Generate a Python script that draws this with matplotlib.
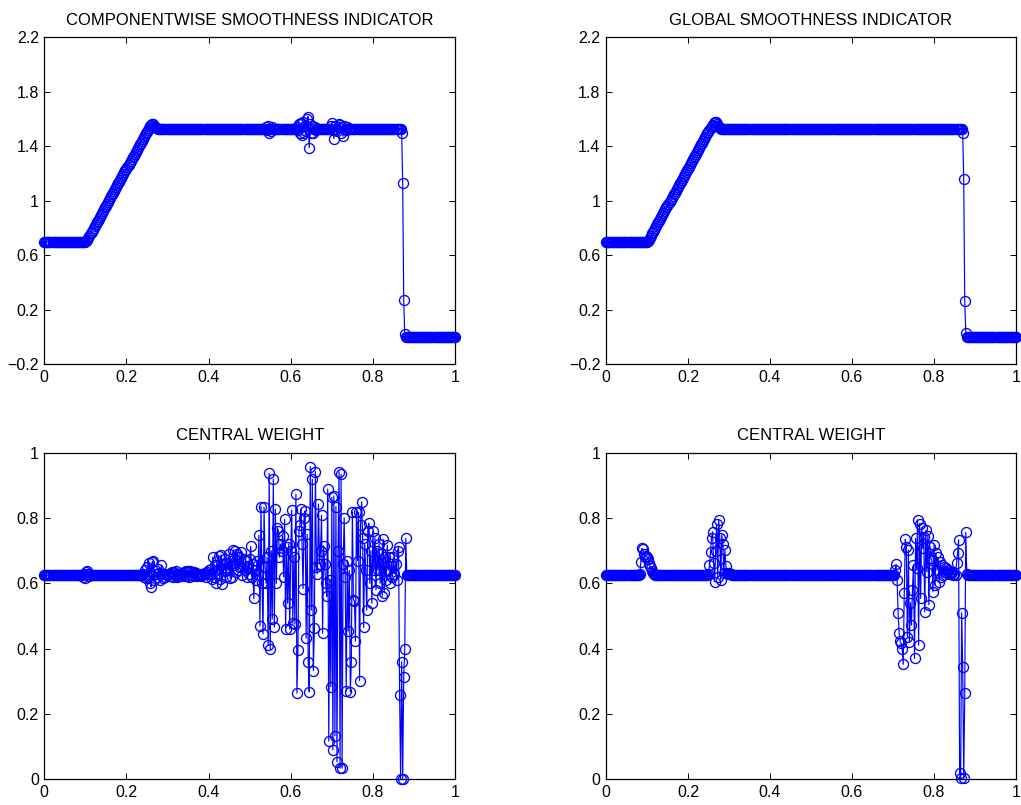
"""
Smoothness indicators and central WENO weight, componentwise vs global.
Four panels in the old MATLAB look: blue line with open circles.
"""

import numpy as np
import matplotlib
matplotlib.use("Agg")
import matplotlib.pyplot as plt

# grid: 401 cells on [0, 1]
x = np.linspace(0.0, 1.0, 401)

# ── data ──────────────────────────────────────────────────
indicator_comp = (
    [0.70] * 40
    + [0.700, 0.705, 0.715, 0.730, 0.745, 0.760]
    + [0.774, 0.787, 0.801, 0.815, 0.828, 0.842, 0.855, 0.869, 0.883, 0.896,
       0.910, 0.923, 0.937, 0.951, 0.964, 0.978, 0.992, 1.005, 1.019, 1.032,
       1.046, 1.060, 1.073, 1.087, 1.100, 1.114, 1.128, 1.141, 1.155, 1.168,
       1.182, 1.196, 1.209, 1.223, 1.236, 1.250, 1.264, 1.277, 1.291, 1.304,
       1.318, 1.332, 1.345, 1.359, 1.372, 1.386, 1.400, 1.413, 1.427, 1.440,
       1.454, 1.468, 1.481, 1.495, 1.508, 1.522, 1.536, 1.549, 1.558]
    + [1.562, 1.560, 1.552, 1.543, 1.537, 1.533]
    + [1.53] * 105
    + [1.54, 1.52, 1.55, 1.495, 1.53, 1.51, 1.54]
    + [1.53] * 23
    + [1.54, 1.52, 1.56, 1.495, 1.57, 1.483, 1.58, 1.50, 1.55, 1.51,
       1.60, 1.618, 1.39, 1.56, 1.50, 1.55, 1.495, 1.53, 1.54, 1.52]
    + [1.53] * 13
    + [1.55, 1.574, 1.52, 1.456, 1.55, 1.53, 1.51, 1.54, 1.56, 1.557,
       1.50, 1.54, 1.474, 1.55, 1.53, 1.52, 1.54, 1.53]
    + [1.53] * 51
    + [1.50, 1.13, 0.27, 0.02]
    + [0.0] * 49
)

indicator_glob = (
    [0.70] * 40
    + [0.700, 0.705, 0.715, 0.730, 0.745, 0.760]
    + [0.774, 0.787, 0.801, 0.815, 0.828, 0.842, 0.855, 0.869, 0.883, 0.896,
       0.910, 0.923, 0.937, 0.951, 0.964, 0.978, 0.992, 1.005, 1.019, 1.032,
       1.046, 1.060, 1.073, 1.087, 1.100, 1.114, 1.128, 1.141, 1.155, 1.168,
       1.182, 1.196, 1.209, 1.223, 1.236, 1.250, 1.264, 1.277, 1.291, 1.304,
       1.318, 1.332, 1.345, 1.359, 1.372, 1.386, 1.400, 1.413, 1.427, 1.440,
       1.454, 1.468, 1.481, 1.495, 1.508, 1.522, 1.536, 1.549, 1.558]
    + [1.570, 1.580, 1.578, 1.565, 1.550, 1.540, 1.535]
    + [1.53] * 236
    + [1.495, 1.16, 0.265, 0.03]
    + [0.0] * 49
)

weight_comp = (
    [0.625] * 38
    + [0.620, 0.630, 0.615, 0.635, 0.637, 0.628, 0.622, 0.627]
    + [0.625] * 50
    # 0.24 - 0.30
    + [0.630, 0.620, 0.640, 0.615, 0.650, 0.620, 0.662, 0.600, 0.590, 0.666,
       0.668, 0.610, 0.640, 0.630, 0.620, 0.645, 0.632, 0.610, 0.656, 0.630,
       0.615, 0.628, 0.620, 0.625, 0.630]
    # 0.30 - 0.40
    + [0.628, 0.622, 0.632, 0.636, 0.620, 0.634, 0.626, 0.638, 0.618, 0.630,
       0.624, 0.628, 0.622, 0.632, 0.626, 0.635, 0.622, 0.638, 0.624, 0.637,
       0.620, 0.638, 0.626, 0.636, 0.622, 0.634, 0.628, 0.632, 0.624, 0.630,
       0.626, 0.628, 0.622, 0.630, 0.625, 0.632, 0.620, 0.635, 0.628, 0.640]
    # 0.40 - 0.50
    + [0.630, 0.645, 0.612, 0.680, 0.620, 0.655, 0.600, 0.670, 0.630, 0.685,
       0.612, 0.688, 0.598, 0.660, 0.640, 0.675, 0.620, 0.662, 0.640, 0.690,
       0.615, 0.670, 0.620, 0.702, 0.655, 0.700, 0.635, 0.690, 0.640, 0.682,
       0.650, 0.695, 0.625, 0.675, 0.640, 0.668, 0.620, 0.652, 0.630, 0.675]
    # 0.50 - 0.88
    + [0.713, 0.620, 0.660, 0.554, 0.640, 0.610, 0.670, 0.630, 0.747, 0.469,
       0.835, 0.600, 0.445, 0.833, 0.650, 0.600, 0.680, 0.410, 0.937, 0.398,
       0.700, 0.491, 0.919, 0.466, 0.827, 0.600, 0.770, 0.760, 0.680, 0.720,
       0.700, 0.745, 0.620, 0.796, 0.460, 0.710, 0.539, 0.720, 0.460, 0.700,
       0.825, 0.478, 0.680, 0.475, 0.873, 0.264, 0.396, 0.760, 0.780, 0.829,
       0.720, 0.584, 0.800, 0.822, 0.432, 0.750, 0.359, 0.268, 0.957, 0.518,
       0.919, 0.333, 0.462, 0.942, 0.650, 0.630, 0.843, 0.660, 0.700, 0.809,
       0.447, 0.715, 0.660, 0.600, 0.560, 0.889, 0.117, 0.610, 0.284, 0.863,
       0.090, 0.868, 0.133, 0.835, 0.054, 0.700, 0.942, 0.034, 0.934, 0.034,
       0.660, 0.801, 0.620, 0.270, 0.670, 0.454, 0.640, 0.268, 0.360, 0.819,
       0.550, 0.546, 0.423, 0.820, 0.670, 0.817, 0.302, 0.780, 0.850, 0.740,
       0.465, 0.720, 0.640, 0.518, 0.760, 0.784, 0.600, 0.700, 0.539, 0.760,
       0.640, 0.740, 0.580, 0.700, 0.640, 0.720, 0.600, 0.690, 0.560, 0.735,
       0.571, 0.680, 0.610, 0.717, 0.640, 0.680, 0.600, 0.660, 0.620, 0.680,
       0.630, 0.660, 0.610, 0.700, 0.710, 0.258, 0.002, 0.360, 0.002, 0.314,
       0.399, 0.738]
    + [0.625] * 48
)

weight_glob = (
    [0.625] * 33
    + [0.630, 0.664, 0.707, 0.704, 0.690, 0.680, 0.685, 0.682, 0.675, 0.661,
       0.652, 0.646, 0.638, 0.632, 0.628]
    + [0.625] * 52
    + [0.630, 0.656, 0.697, 0.740, 0.758, 0.661, 0.605, 0.700, 0.781, 0.620,
       0.794, 0.740, 0.610, 0.748, 0.722, 0.633, 0.702, 0.653, 0.632, 0.628]
    + [0.632, 0.630, 0.628]
    + [0.625] * 159
    + [0.640, 0.658, 0.610, 0.510, 0.447, 0.423, 0.416, 0.398, 0.352, 0.569,
       0.735, 0.712, 0.437, 0.702, 0.421, 0.541, 0.472, 0.580, 0.656, 0.370,
       0.738, 0.646, 0.794, 0.411, 0.782, 0.554, 0.770, 0.707, 0.743, 0.513,
       0.763, 0.636, 0.745, 0.534, 0.712, 0.677, 0.671, 0.574, 0.717, 0.595,
       0.692, 0.641, 0.680, 0.605, 0.666, 0.620, 0.656, 0.626, 0.651, 0.636,
       0.646, 0.631, 0.642, 0.628, 0.636, 0.630, 0.634, 0.626, 0.630, 0.625,
       0.661, 0.692, 0.733, 0.018, 0.003, 0.510, 0.343, 0.003, 0.263, 0.756,
       0.630]
    + [0.625] * 48
)

titles = ["COMPONENTWISE SMOOTHNESS INDICATOR", "GLOBAL SMOOTHNESS INDICATOR",
          "CENTRAL WEIGHT", "CENTRAL WEIGHT"]

x_ticks = [0, 0.2, 0.4, 0.6, 0.8, 1]
x_ticklabels = ["0", "0.2", "0.4", "0.6", "0.8", "1"]
ind_ticks = [-0.2, 0.2, 0.6, 1.0, 1.4, 1.8, 2.2]
ind_ticklabels = ["\u22120.2", "0.2", "0.6", "1", "1.4", "1.8", "2.2"]
w_ticks = [0, 0.2, 0.4, 0.6, 0.8, 1]
w_ticklabels = ["0", "0.2", "0.4", "0.6", "0.8", "1"]

for name, s in [("indicator_comp", indicator_comp), ("indicator_glob", indicator_glob),
                ("weight_comp", weight_comp), ("weight_glob", weight_glob)]:
    assert len(s) == len(x), (name, len(s))

plt.rcParams["font.family"] = ["Liberation Sans", "DejaVu Sans"]

fig = plt.figure(figsize=(10.21, 8.05), dpi=100)

# axes boxes measured in pixels on the 1021x805 canvas
boxes = [
    (0.0434, 0.5475, 0.4023, 0.4062),
    (0.5935, 0.5475, 0.4016, 0.4062),
    (0.0434, 0.0319, 0.4023, 0.4057),
    (0.5935, 0.0319, 0.4016, 0.4057),
]
series = [indicator_comp, indicator_glob, weight_comp, weight_glob]

for k, (box, y, title) in enumerate(zip(boxes, series, titles)):
    ax = fig.add_axes(box)
    ax.plot(x, y, "-", color="#0000ff", linewidth=0.85, marker="o",
            markersize=7.2, markerfacecolor="none", markeredgecolor="#0000ff",
            markeredgewidth=0.95, clip_on=False, zorder=3)
    ax.set_xlim(0, 1)
    ax.set_xticks(x_ticks)
    ax.set_xticklabels(x_ticklabels)
    if k < 2:
        ax.set_ylim(-0.2, 2.2)
        ax.set_yticks(ind_ticks)
        ax.set_yticklabels(ind_ticklabels)
    else:
        ax.set_ylim(0, 1)
        ax.set_yticks(w_ticks)
        ax.set_yticklabels(w_ticklabels)
    ax.tick_params(direction="in", length=4.5, width=0.7, top=True, right=True,
                   labelsize=11.5, pad=4, colors="black")
    for sp in ax.spines.values():
        sp.set_linewidth(0.9)
    ax.set_title(title, fontsize=12, pad=9)

fig.savefig("out.png", dpi=100)
plt.close(fig)
